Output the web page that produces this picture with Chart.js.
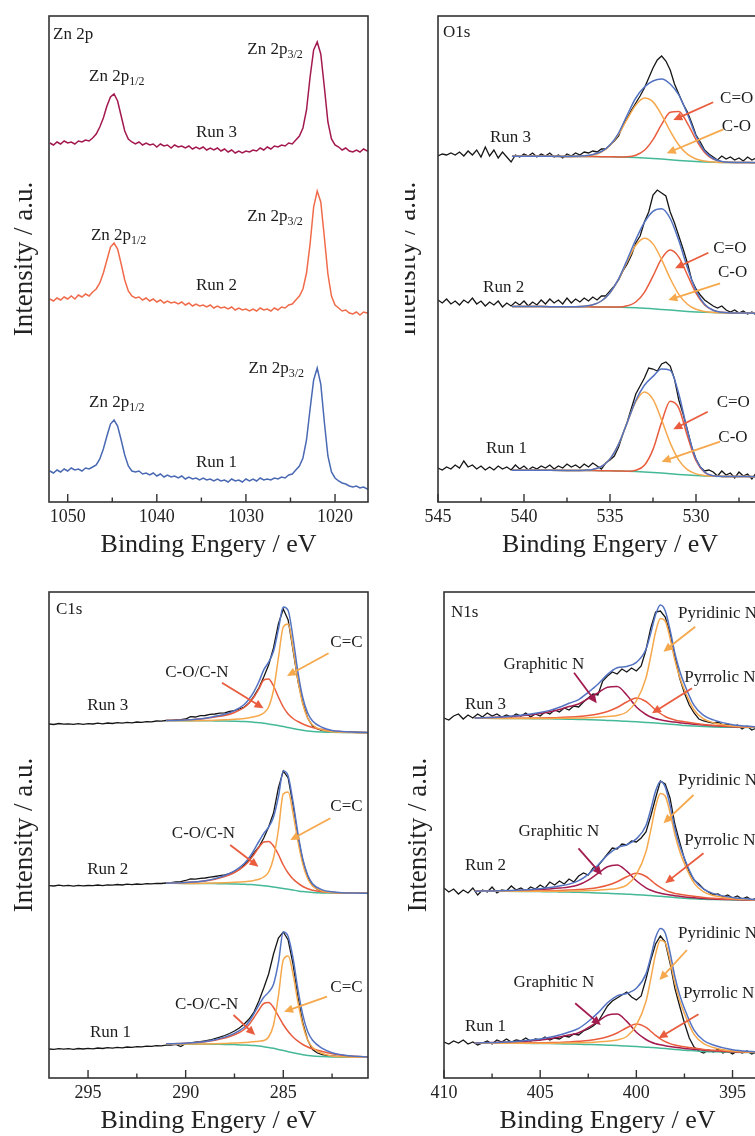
<!DOCTYPE html>
<html>
<head>
<meta charset="utf-8">
<script src="https://cdn.jsdelivr.net/npm/chart.js@4.4.1/dist/chart.umd.min.js"></script>
<style>
html, body { margin: 0; padding: 0; background: #fff; width: 755px; height: 1136px; overflow: hidden; }
.clip { position: absolute; overflow: hidden; }
canvas { position: absolute; }
</style>
</head>
<body>
<canvas id="zn" width="375" height="561" style="left:0px;top:0px"></canvas>
<div class="clip" style="left:405px;top:0px;width:350px;height:561px">
  <canvas id="o1s" width="410" height="561" style="left:-25px;top:0px"></canvas>
</div>
<canvas id="c1s" width="375" height="561" style="left:0px;top:576px"></canvas>
<canvas id="n1s" width="400" height="561" style="left:380px;top:576px"></canvas>
<script>
// ---------- Zn 2p ----------
const znX = [1052, 1051.6, 1051.2, 1050.8, 1050.4, 1050, 1049.6, 1049.2, 1048.8, 1048.4,
  1048, 1047.6, 1047.2, 1046.8, 1046.4, 1046, 1045.6, 1045.2, 1044.8, 1044.4,
  1044, 1043.6, 1043.2, 1042.8, 1042.4, 1042, 1041.6, 1041.2, 1040.8, 1040.4,
  1040, 1039.6, 1039.2, 1038.8, 1038.4, 1038, 1037.6, 1037.2, 1036.8, 1036.4,
  1036, 1035.6, 1035.2, 1034.8, 1034.4, 1034, 1033.6, 1033.2, 1032.8, 1032.4,
  1032, 1031.6, 1031.2, 1030.8, 1030.4, 1030, 1029.6, 1029.2, 1028.8, 1028.4,
  1028, 1027.6, 1027.2, 1026.8, 1026.4, 1026, 1025.6, 1025.2, 1024.8, 1024.4,
  1024, 1023.6, 1023.2, 1022.8, 1022.4, 1022, 1021.6, 1021.2, 1020.8, 1020.4,
  1020, 1019.6, 1019.2, 1018.8, 1018.4, 1018, 1017.6, 1017.2, 1016.8, 1016.4, 1016];
const znRun3 = [359, 357, 360, 358, 361, 359, 360, 358, 361, 360,
  362, 361, 364, 368, 375, 384, 396, 405, 408, 401,
  386, 371, 363, 360, 358, 360, 357, 359, 357, 358,
  355, 358, 356, 357, 354, 357, 355, 356, 354, 356,
  353, 355, 353, 355, 352, 354, 352, 354, 351, 353,
  350, 352, 349, 351, 349, 351, 350, 352, 351, 354,
  352, 355, 353, 356, 355, 357, 356, 359, 358, 362,
  366, 374, 392, 425, 452, 460, 448, 415, 380, 363,
  357, 355, 352, 354, 351, 350, 352, 350, 353, 351, 352];
const znRun2 = [203, 201, 204, 202, 205, 203, 206, 203, 207, 205,
  208, 206, 210, 213, 219, 229, 242, 255, 259, 253,
  238, 222, 211, 206, 204, 205, 202, 204, 201, 203,
  200, 202, 199, 201, 199, 200, 198, 200, 197, 199,
  196, 198, 196, 197, 195, 197, 194, 196, 194, 195,
  193, 195, 192, 194, 192, 193, 191, 193, 191, 194,
  192, 193, 191, 194, 192, 195, 194, 197, 198, 202,
  206, 213, 229, 258, 295, 311, 300, 265, 228, 206,
  197, 194, 191, 192, 189, 188, 190, 187, 190, 189, 190];
const znRun1 = [31, 29, 32, 30, 33, 31, 34, 32, 33, 31,
  34, 33, 35, 37, 43, 53, 66, 78, 82, 76,
  62, 47, 36, 31, 30, 31, 28, 29, 27, 29,
  26, 28, 25, 27, 25, 26, 24, 26, 23, 25,
  23, 24, 22, 24, 22, 23, 21, 23, 21, 22,
  20, 23, 21, 22, 20, 23, 21, 23, 21, 24,
  22, 23, 22, 24, 23, 25, 24, 27, 28, 32,
  36, 44, 62, 93, 122, 134, 118, 80, 46, 30,
  24, 21, 19, 18, 16, 15, 16, 14, 15, 13, 14];
const znTicks = [1050, 1040, 1030, 1020];
const znMinor = [1045, 1035, 1025];

// ---------- O 1s ----------
const o1sX = [545, 544.75, 544.5, 544.25, 544, 543.75, 543.5, 543.25, 543, 542.75,
  542.5, 542.25, 542, 541.75, 541.5, 541.25, 541, 540.75, 540.5, 540.25,
  540, 539.75, 539.5, 539.25, 539, 538.75, 538.5, 538.25, 538, 537.75,
  537.5, 537.25, 537, 536.75, 536.5, 536.25, 536, 535.75, 535.5, 535.25,
  535, 534.75, 534.5, 534.25, 534, 533.75, 533.5, 533.25, 533, 532.75,
  532.5, 532.25, 532, 531.75, 531.5, 531.25, 531, 530.75, 530.5, 530.25,
  530, 529.75, 529.5, 529.25, 529, 528.75, 528.5, 528.25, 528, 527.75,
  527.5, 527.25, 527, 526.75, 526.5, 526.25, 526, 525.75, 525.5, 525.25, 525];
const o1sRun3 = [346, 348, 347, 349, 347, 350, 346, 351, 347, 352,
  345, 355, 346, 352, 344, 350, 345, 340, 347, 345,
  348, 346, 349, 345, 348, 346, 349, 345, 347, 344,
  348, 346, 349, 347, 350, 349, 351, 350, 353, 353,
  357, 361, 366, 377, 384, 392, 399, 406, 414, 424,
  434, 442, 446, 441, 432, 418, 408, 398, 390, 379,
  367, 360, 352, 348, 345, 342, 346, 343, 345, 342,
  344, 341, 345, 342, 344, 341, 343, 340, 342, 340, 341];
const o1sRun2 = [202, 199, 203, 198, 201, 197, 202, 199, 204, 198,
  201, 196, 200, 197, 201, 195, 199, 196, 200, 197,
  201, 196, 200, 197, 202, 198, 203, 199, 202, 198,
  204, 199, 203, 200, 204, 201, 205, 202, 206, 206,
  211, 216, 222, 231, 238, 247, 259, 266, 280, 290,
  307, 312, 309, 306, 290, 279, 266, 253, 239, 222,
  213, 207, 202, 199, 196, 194, 196, 192, 190, 192,
  189, 191, 188, 190, 187, 190, 188, 189, 187, 189, 188];
const o1sRun1 = [34, 32, 35, 33, 37, 34, 41, 35, 37, 33,
  36, 32, 35, 32, 36, 33, 35, 32, 37, 33,
  36, 32, 35, 33, 36, 34, 37, 33, 36, 34,
  38, 35, 37, 34, 38, 35, 39, 36, 33, 39,
  42, 46, 55, 68, 80, 94, 108, 116, 124, 134,
  133, 131, 138, 140, 136, 123, 102, 88, 72, 55,
  43, 35, 31, 32, 30, 26, 31, 27, 29, 24,
  30, 26, 28, 23, 29, 26, 28, 24, 27, 25, 27];
const o1sFitX = [540.7, 539, 537.5, 537, 536.5, 536, 535.5, 535, 534.5, 534, 533.5, 533, 532.5,
  532, 531.5, 531, 530.5, 530, 529.5, 529, 528.5, 528, 527.5, 527, 526, 525];
const o1sBg3 = [345.8, 345.7, 345.6, 345.5, 345.5, 345.4, 345.3, 345.2, 345.0, 344.8, 344.5, 344.1, 343.6,
  343.0, 342.3, 341.6, 341.0, 340.5, 340.1, 339.8, 339.6, 339.5, 339.4, 339.4, 339.3, 339.3];
const o1sCO3 = [345.8, 345.7, 345.6, 345.6, 346.0, 347.0, 350.0, 356.5, 367.8, 382.8, 396.9, 403.9, 400.1,
  387.2, 370.9, 357.0, 347.8, 343.0, 340.9, 340.0, 339.6, 339.5, 339.4, 339.4, 339.3, 339.3];
const o1sCdO3 = [345.8, 345.7, 345.6, 345.5, 345.5, 345.4, 345.3, 345.2, 345.1, 345.3, 346.8, 351.7, 362.4,
  377.6, 389.8, 390.5, 378.7, 362.3, 349.5, 342.8, 340.3, 339.6, 339.4, 339.4, 339.3, 339.3];
const o1sEnv3 = [345.8, 345.7, 345.6, 345.7, 346.2, 347.5, 350.5, 357, 369, 387, 404, 415, 421,
  423, 418, 407, 388, 366, 351, 343.5, 340.5, 339.7, 339.5, 339.4, 339.3, 339.3];
const o1sBg2 = [195.5, 195.4, 195.3, 195.2, 195.2, 195.1, 195.0, 194.9, 194.7, 194.5, 194.2, 193.8, 193.3,
  192.6, 191.9, 191.2, 190.6, 190.1, 189.7, 189.4, 189.2, 189.0, 188.9, 188.9, 188.8, 188.8];
const o1sCO2 = [195.5, 195.4, 195.3, 195.3, 195.8, 197.2, 201.0, 209.2, 222.9, 240.6, 256.7, 263.8, 258.1,
  242.4, 223.5, 207.7, 197.8, 192.7, 190.5, 189.6, 189.2, 189.0, 188.9, 188.9, 188.8, 188.8];
const o1sCdO2 = [195.5, 195.4, 195.3, 195.2, 195.2, 195.1, 195.0, 195.0, 195.0, 196.2, 200.0, 209.7, 225.9,
  243.4, 251.9, 244.9, 227.0, 208.8, 197.0, 191.6, 189.7, 189.1, 188.9, 188.9, 188.8, 188.8];
const o1sEnv2 = [195.5, 195.4, 195.3, 195.3, 195.8, 197.2, 201.0, 209.3, 223.2, 242.3, 262.5, 279.7, 290.7,
  293.2, 283.5, 261.4, 234.2, 211.4, 197.8, 191.8, 189.7, 189.1, 188.9, 188.9, 188.8, 188.8];
const o1sBg1 = [31.8, 31.7, 31.6, 31.5, 31.5, 31.4, 31.3, 31.2, 31.0, 30.8, 30.5, 30.1, 29.6,
  29.0, 28.3, 27.6, 27.0, 26.5, 26.1, 25.8, 25.6, 25.5, 25.4, 25.4, 25.3, 25.3];
const o1sCO1 = [31.8, 31.7, 31.6, 31.5, 31.8, 32.6, 35.5, 43.1, 57.9, 79.3, 100.3, 110.1, 102.6,
  82.1, 59.1, 41.8, 32.3, 28.1, 26.5, 25.8, 25.6, 25.5, 25.4, 25.4, 25.3, 25.3];
const o1sCdO1 = [31.8, 31.7, 31.6, 31.5, 31.5, 31.4, 31.3, 31.2, 31.0, 30.8, 31.7, 36.7, 52.6,
  79.8, 100.8, 93.9, 66.0, 41.2, 29.6, 26.3, 25.6, 25.5, 25.4, 25.4, 25.3, 25.3];
const o1sEnv1 = [31.8, 31.7, 31.6, 31.5, 31.8, 32.6, 35.5, 43.1, 57.9, 79.3, 101.5, 116.7, 125.6,
  132.9, 131.6, 108.1, 71.3, 42.8, 30.0, 26.3, 25.6, 25.5, 25.4, 25.4, 25.3, 25.3];
const o1sTicks = [545, 540, 535, 530];
const o1sMinor = [542.5, 537.5, 532.5, 527.5];

// ---------- C 1s ----------
const c1sX = [297, 296.75, 296.5, 296.25, 296, 295.75, 295.5, 295.25, 295, 294.75,
  294.5, 294.25, 294, 293.75, 293.5, 293.25, 293, 292.75, 292.5, 292.25,
  292, 291.75, 291.5, 291.25, 291, 290.75, 290.5, 290.25, 290, 289.75,
  289.5, 289.25, 289, 288.75, 288.5, 288.25, 288, 287.75, 287.5, 287.25,
  287, 286.75, 286.5, 286.25, 286, 285.75, 285.5, 285.25, 285, 284.75,
  284.5, 284.25, 284, 283.75, 283.5, 283.25, 283, 282.75, 282.5, 282.25,
  282, 281.75, 281.5, 281.25, 281, 280.75];
const c1sRun3 = [354, 353.5, 354.5, 353.8, 354.2, 353.6, 354.4, 353.7, 354.3, 354.0,
  354.8, 354.2, 355.0, 354.5, 355.3, 354.8, 355.6, 355.2, 356.0, 355.6,
  356.4, 356.2, 357.0, 356.8, 357.5, 357.6, 358.2, 358.3, 359.0, 361.3,
  361.0, 362.4, 362.5, 363.6, 364.0, 364.8, 365.2, 366.5, 367.3, 369.0,
  371, 375, 382, 390, 401, 413, 430, 454, 469, 458,
  428, 397, 375, 360, 352, 349, 347.5, 347.0, 346.5, 346.4,
  346.2, 346.0, 345.9, 345.8, 345.7, 345.7];
const c1sRun2 = [192.3, 192.0, 192.8, 192.2, 192.6, 191.9, 192.7, 192.1, 192.5, 192.3,
  193.0, 192.4, 193.2, 192.8, 193.5, 193.0, 193.8, 193.4, 194.0, 193.6,
  194.3, 194.1, 194.6, 194.5, 195.0, 195.4, 196.0, 196.3, 197.5, 199.2,
  198.8, 199.6, 200.0, 200.8, 201.5, 202.3, 203.2, 204.4, 205.8, 208.5,
  213, 218, 225, 231, 240, 251, 265, 290, 307, 300,
  273, 241, 217, 201, 192.5, 188.5, 186.8, 186.0, 185.6, 185.3,
  185.1, 185.0, 184.9, 184.8, 184.8, 184.7];
const c1sRun1 = [29.0, 28.6, 29.4, 28.8, 29.3, 28.7, 29.5, 29.0, 29.6, 29.2,
  30.0, 29.5, 30.3, 29.9, 30.6, 30.2, 31.0, 30.7, 31.4, 31.1,
  31.8, 31.6, 32.3, 32.2, 32.8, 33.0, 33.6, 31.5, 34.5, 35.2,
  35.8, 36.3, 37.2, 38.0, 39.5, 40.8, 42.5, 44.5, 47.0, 50.0,
  54, 59, 66, 77, 90, 104, 124, 140, 146, 138,
  114, 81, 55, 38, 28.5, 25.0, 23.5, 22.6, 22.0, 21.7,
  21.5, 21.4, 21.3, 21.3, 21.2, 21.2];
const c1sFitX = [291, 290, 289, 288.5, 288, 287.5, 287, 286.75, 286.5, 286.25, 286, 285.75, 285.5,
  285.25, 285, 284.75, 284.5, 284.25, 284, 283.75, 283.5, 283, 282.5, 282, 281.5, 280.6];
const c1sBg3 = [357.4, 357.3, 357.2, 357.1, 357.0, 356.8, 356.5, 356.2, 355.8, 355.3, 354.8, 354.1, 353.3,
  352.4, 351.5, 350.5, 349.5, 348.5, 347.7, 347.0, 346.5, 346.0, 345.7, 345.5, 345.4, 345.3];
const c1sCO3 = [357.5, 358.0, 359.5, 361, 362.5, 365.5, 370.5, 375, 381, 389, 398, 399, 392,
  381, 371, 364, 359.5, 356.5, 354, 352, 350.5, 348.5, 347, 346.3, 345.8, 345.4];
const c1sCC3 = [357.4, 357.3, 357.5, 357.8, 358.2, 358.7, 359.5, 360.2, 361.2, 362.5, 365, 371, 388,
  420, 451, 454, 430, 398, 374, 360, 353, 348, 346.3, 345.7, 345.5, 345.3];
const c1sEnv3 = [357.5, 358.0, 359.8, 361.7, 363.7, 367.4, 373.5, 379.0, 386.4, 396.2, 408.2, 415.9, 426.7,
  448.6, 471.0, 467.5, 440.0, 406.0, 380.3, 365.0, 357.0, 350.5, 347.6, 346.5, 345.9, 345.4];
const c1sBg2 = [194.7, 194.6, 194.5, 194.4, 194.3, 194.1, 193.8, 193.5, 193.2, 192.8, 192.3, 191.7, 191.0,
  190.3, 189.5, 188.7, 187.9, 187.1, 186.4, 185.9, 185.5, 185.1, 184.9, 184.8, 184.7, 184.7];
const c1sCO2 = [194.8, 195.5, 197.0, 198.8, 201.5, 205.5, 212, 217, 223.5, 230.5, 236, 236.5, 232,
  223.5, 213, 205, 199, 194.8, 191.5, 189.3, 187.8, 186.2, 185.5, 185.1, 184.9, 184.7];
const c1sCC2 = [194.7, 194.6, 194.8, 195.0, 195.3, 195.7, 196.3, 196.8, 197.6, 198.8, 201, 206, 220,
  248, 284, 286, 265, 237, 214, 199.5, 192, 187, 185.6, 185.0, 184.8, 184.7];
const c1sEnv2 = [194.8, 195.5, 197.3, 199.4, 202.5, 207.1, 214.5, 220.3, 227.9, 236.5, 244.7, 250.8, 261.0,
  281.2, 307.0, 302.0, 276.1, 244.7, 219.1, 202.9, 194.3, 188.1, 186.2, 185.3, 185.0, 184.7];
const c1sBg1 = [34.0, 33.9, 33.8, 33.7, 33.6, 33.4, 33.1, 32.8, 32.4, 31.9, 31.3, 30.6, 29.7,
  28.6, 27.4, 26.3, 25.2, 24.2, 23.3, 22.6, 22.0, 21.4, 21.0, 20.8, 20.7, 20.7];
const c1sCO1 = [34.2, 34.8, 36.3, 37.8, 40.0, 43.2, 48.5, 53.5, 60.5, 68, 74.5, 75.5, 70.5,
  62, 53.5, 46.5, 41, 36.8, 33.5, 31, 29.2, 26.5, 24.3, 22.8, 21.9, 21.0];
const c1sCC1 = [34.0, 33.9, 34.0, 34.2, 34.5, 34.9, 35.4, 35.8, 36.3, 36.8, 37.5, 41, 53,
  82, 118, 122, 104, 76, 53, 38, 30.5, 24.5, 22, 21.2, 20.8, 20.7];
const c1sEnv1 = [34.2, 34.8, 36.5, 38.3, 40.9, 44.7, 50.8, 56.5, 64.4, 72.9, 80.7, 85.9, 93.8,
  115.4, 146.0, 141.5, 119.8, 88.6, 63.2, 46.4, 37.7, 29.6, 25.3, 23.2, 22.0, 21.0];
const c1sTicks = [295, 290, 285];
const c1sMinor = [292.5, 287.5, 282.5];

// ---------- N 1s ----------
const n1sX = [410, 409.75, 409.5, 409.25, 409, 408.75, 408.5, 408.25, 408, 407.75,
  407.5, 407.25, 407, 406.75, 406.5, 406.25, 406, 405.75, 405.5, 405.25,
  405, 404.75, 404.5, 404.25, 404, 403.75, 403.5, 403.25, 403, 402.75,
  402.5, 402.25, 402, 401.75, 401.5, 401.25, 401, 400.75, 400.5, 400.25,
  400, 399.75, 399.5, 399.25, 399, 398.75, 398.5, 398.25, 398, 397.75,
  397.5, 397.25, 397, 396.75, 396.5, 396.25, 396, 395.75, 395.5, 395.25,
  395, 394.75, 394.5, 394.25, 394, 393.75];
const n1sRun3 = [360, 358, 362, 364, 359, 363, 360, 364, 361, 365,
  362, 364, 361, 363, 361, 364, 362, 365, 361, 364,
  362, 366, 364, 368, 366, 370, 368, 372, 371, 376,
  380, 384, 383, 397, 402, 406, 404, 409, 406, 410,
  407, 412, 428, 450, 466, 467, 461, 445, 422, 400,
  385, 373, 365, 359, 357, 356, 355, 356, 353, 354,
  351, 353, 349, 352, 348, 350];
const n1sRun2 = [190, 186, 189, 184, 188, 185, 190, 183, 188, 186,
  191, 185, 188, 187, 192, 188, 190, 187, 191, 189,
  193, 190, 196, 193, 197, 194, 199, 196, 202, 205,
  203, 210, 212, 218, 224, 230, 229, 234, 233, 237,
  236, 240, 246, 262, 280, 297, 294, 280, 254, 236,
  219, 206, 198, 194, 189, 186, 183, 184, 181, 183,
  180, 182, 179, 181, 178, 180];
const n1sRun1 = [36, 34, 37, 35, 38, 34, 36, 33, 35, 37,
  34, 38, 36, 39, 36, 38, 37, 40, 37, 39,
  38, 41, 38, 40, 39, 42, 41, 44, 43, 47,
  49, 52, 56, 64, 72, 77, 80, 83, 86, 81,
  78, 82, 99, 118, 134, 142, 136, 115, 90, 72,
  55, 40, 31, 27, 25, 28, 26, 29, 25, 27,
  24, 27, 25, 27, 24, 26];
const n1sFitX = [408.4, 407, 406, 405, 404.5, 404, 403.5, 403, 402.5, 402, 401.5, 401, 400.5, 400, 399.5,
  399.25, 399, 398.75, 398.5, 398.25, 398, 397.75, 397.5, 397, 396.5, 396, 395, 394, 393];
const n1sBg3 = [359.7, 359.6, 359.5, 359.3, 359.2, 359.0, 358.8, 358.6, 358.3, 358.0, 357.6, 357.2, 356.7, 356.2, 355.6,
  355.3, 355.0, 354.6, 354.2, 353.8, 353.4, 353.0, 352.6, 352.0, 351.5, 351.1, 350.7, 350.5, 350.4];
const n1sGr3 = [359.9, 361.0, 362.3, 364.5, 366.2, 368.5, 371.5, 374, 379.5, 385, 390.8, 391.5, 383, 371, 363.5,
  361, 359.3, 358.2, 357.2, 356.5, 355.9, 355.3, 354.8, 353.8, 353, 352.3, 351.3, 350.8, 350.5];
const n1sPr3 = [359.7, 359.7, 359.8, 360.0, 360.2, 360.5, 361.0, 361.6, 362.5, 364, 366.5, 370.5, 376, 380, 376.5,
  372.5, 368, 364.5, 361.5, 359.5, 358, 357, 356.2, 354.8, 353.6, 352.7, 351.4, 350.8, 350.5];
const n1sPy3 = [359.7, 359.6, 359.6, 359.6, 359.6, 359.7, 359.8, 360.0, 360.3, 360.8, 361.5, 362.6, 366, 377, 400,
  422, 446, 459.5, 457, 440, 418, 401, 388, 368, 359, 355.3, 352, 350.9, 350.5];
const n1sEnv3 = [359.9, 361.1, 362.7, 365.5, 367.6, 370.7, 374.7, 378.4, 385.7, 393.8, 403.6, 410.2, 411.6, 415.6, 428.8,
  444.9, 463.3, 473.0, 467.3, 448.4, 425.1, 407.3, 393.8, 372.6, 362.6, 358.1, 353.3, 351.5, 350.7];
const n1sBg2 = [186.8, 186.7, 186.6, 186.4, 186.3, 186.1, 185.9, 185.7, 185.4, 185.1, 184.7, 184.3, 183.8, 183.3, 182.7,
  182.4, 182.1, 181.7, 181.3, 180.9, 180.5, 180.1, 179.7, 179.2, 178.7, 178.4, 178.1, 177.9, 177.8];
const n1sGr2 = [186.8, 187.1, 187.6, 188.4, 189.1, 189.9, 190.9, 193.2, 197.9, 204.6, 211.2, 212.9, 206.8, 197.3, 190.2,
  187.7, 186.0, 184.8, 183.8, 183.0, 182.3, 181.7, 181.1, 180.3, 179.6, 179.1, 178.5, 178.1, 177.9];
const n1sPr2 = [186.8, 186.8, 186.9, 187.0, 187.2, 187.5, 187.9, 188.4, 189.2, 190.5, 192.7, 196.3, 201.2, 204.7, 201.5,
  197.9, 193.8, 190.6, 187.9, 186.0, 184.6, 183.7, 182.9, 181.7, 180.6, 179.8, 178.7, 178.2, 177.9];
const n1sPy2 = [186.8, 186.7, 186.7, 186.7, 186.7, 186.8, 186.9, 187.1, 187.4, 187.8, 188.5, 189.6, 192.9, 203.7, 226.2,
  247.8, 271.3, 284.5, 282.0, 265.4, 243.8, 227.1, 214.4, 194.9, 186.1, 182.5, 179.4, 178.3, 177.9];
const n1sEnv2 = [186.8, 187.2, 188.0, 189.3, 190.4, 192.0, 193.9, 197.3, 203.7, 212.7, 223.0, 230.2, 233.3, 239.1, 252.5,
  268.6, 286.9, 296.5, 291.1, 272.8, 249.7, 232.6, 219.6, 198.5, 188.9, 184.6, 180.4, 178.8, 178.1];
const n1sBg1 = [34.9, 34.8, 34.7, 34.5, 34.4, 34.2, 34.0, 33.8, 33.5, 33.2, 32.8, 32.4, 31.9, 31.4, 30.8,
  30.5, 30.2, 29.8, 29.4, 29.0, 28.6, 28.2, 27.8, 27.2, 26.6, 26.2, 25.7, 25.5, 25.4];
const n1sGr1 = [35.0, 35.7, 36.6, 38.1, 39.3, 40.9, 42.9, 45.3, 50.4, 56.5, 62.7, 63.9, 56.6, 45.8, 38.5,
  36.0, 34.3, 33.2, 32.2, 31.4, 30.8, 30.2, 29.6, 28.7, 27.8, 27.2, 26.2, 25.8, 25.5];
const n1sPr1 = [34.9, 34.9, 35.0, 35.2, 35.4, 35.6, 36.1, 36.7, 37.5, 38.9, 41.3, 45.0, 50.2, 54.0, 50.7,
  46.8, 42.6, 39.2, 36.3, 34.4, 33.0, 32.0, 31.2, 29.9, 28.6, 27.7, 26.4, 25.8, 25.5];
const n1sPy1 = [34.9, 34.8, 34.8, 34.8, 34.8, 34.9, 35.0, 35.2, 35.6, 36.1, 36.8, 38.0, 41.5, 52.8, 76.5,
  99.2, 123.9, 137.8, 135.3, 117.8, 95.1, 77.6, 64.3, 43.7, 34.3, 30.5, 27.0, 25.9, 25.5];
const n1sEnv1 = [35.0, 35.8, 37.0, 39.1, 40.7, 43.0, 46.0, 49.6, 56.5, 65.1, 75.2, 82.1, 84.5, 89.8, 104.1,
  121.0, 140.4, 149.6, 145.0, 125.6, 101.7, 83.4, 69.5, 47.9, 37.5, 33.0, 28.2, 26.5, 25.7];
const n1sTicks = [410, 405, 400, 395];
const n1sMinor = [407.5, 402.5, 397.5];

// ---------- styles ----------
Chart.defaults.font.family = "'Liberation Serif', 'Times New Roman', serif";
Chart.defaults.color = '#222';

const BLACK = '#161616', ENV = '#5373c2', ORANGE = '#f6a84c', RED = '#e95c3d',
  CRIMSON = '#a31c50', GREEN = '#45b997';
const ZN3 = '#a3194f', ZN2 = '#f06b4a', ZN1 = '#4a69b3';
const SERIF = '"Liberation Serif", "Times New Roman", serif';

function pts(xs, ys) {
  return xs.map((x, i) => ({ x: x, y: ys[i] }));
}

// order: smaller = drawn on top
function line(xs, ys, color, width, smooth, order) {
  return {
    data: pts(xs, ys), borderColor: color, borderWidth: width, pointRadius: 0,
    tension: 0, cubicInterpolationMode: smooth ? 'monotone' : 'default',
    fill: false, order: order
  };
}

function arrow(ctx, x1, y1, x2, y2, color) {
  const a = Math.atan2(y2 - y1, x2 - x1);
  const L = 9, W = 4.2;
  ctx.strokeStyle = color; ctx.fillStyle = color; ctx.lineWidth = 1.8;
  ctx.beginPath();
  ctx.moveTo(x1, y1);
  ctx.lineTo(x2 - L * 0.8 * Math.cos(a), y2 - L * 0.8 * Math.sin(a));
  ctx.stroke();
  ctx.beginPath();
  ctx.moveTo(x2, y2);
  ctx.lineTo(x2 - L * Math.cos(a) + W * Math.sin(a), y2 - L * Math.sin(a) - W * Math.cos(a));
  ctx.lineTo(x2 - L * Math.cos(a) - W * Math.sin(a), y2 - L * Math.sin(a) + W * Math.cos(a));
  ctx.closePath();
  ctx.fill();
}

// frame, inward ticks, panel label, annotations
function decor(p) {
  return {
    id: 'decor',
    afterDraw(chart) {
      const { ctx, chartArea: a } = chart;
      const x = chart.scales.x, y = chart.scales.y;
      ctx.save();
      p.arrows.forEach(r => arrow(ctx, x.getPixelForValue(r[0]), y.getPixelForValue(r[1]),
        x.getPixelForValue(r[2]), y.getPixelForValue(r[3]), r[4]));
      ctx.fillStyle = '#1c1c1c';
      ctx.textBaseline = 'alphabetic';
      ctx.textAlign = 'left';
      ctx.font = '17px ' + SERIF;
      ctx.fillText(p.label, a.left + p.labelPos[0], a.top + p.labelPos[1]);
      p.texts.forEach(t => {
        const px = x.getPixelForValue(t[1]), py = y.getPixelForValue(t[2]);
        ctx.font = '17px ' + SERIF;
        ctx.fillText(t[0], px, py);
        if (t[3]) {
          const w = ctx.measureText(t[0]).width;
          ctx.font = '12px ' + SERIF;
          ctx.fillText(t[3], px + w, py + 4);
        }
      });
      ctx.strokeStyle = '#333';
      ctx.lineWidth = 1.6;
      ctx.strokeRect(a.left, a.top, a.right - a.left, a.bottom - a.top);
      ctx.lineWidth = 1.4;
      ctx.beginPath();
      p.ticks.forEach(v => { const px = x.getPixelForValue(v); ctx.moveTo(px, a.bottom); ctx.lineTo(px, a.bottom - 8); });
      p.minor.forEach(v => { const px = x.getPixelForValue(v); ctx.moveTo(px, a.bottom); ctx.lineTo(px, a.bottom - 4.5); });
      ctx.stroke();
      ctx.restore();
    }
  };
}

function makeChart(id, p) {
  return new Chart(document.getElementById(id), {
    type: 'line',
    data: { datasets: p.datasets },
    options: {
      responsive: false, animation: false, devicePixelRatio: 1, events: [],
      layout: { padding: { left: 0, top: 16, right: p.padRight, bottom: 0 } },
      plugins: { legend: { display: false }, tooltip: { enabled: false } },
      scales: {
        x: {
          type: 'linear', reverse: true, min: p.min, max: p.max,
          grid: { display: false, drawTicks: false }, border: { display: false },
          afterBuildTicks: s => { s.ticks = p.ticks.map(v => ({ value: v })); },
          afterFit: s => { s.height = 59; },
          ticks: { font: { size: 18 }, color: '#222', padding: 4, maxRotation: 0, autoSkip: false,
            callback: v => String(v) },
          title: { display: true, text: 'Binding Engery / eV', font: { size: 26 }, color: '#222',
            padding: { top: 0, bottom: 0.5 } }
        },
        y: {
          type: 'linear', min: 0, max: 486,
          grid: { display: false, drawTicks: false }, border: { display: false },
          ticks: { display: false },
          afterFit: s => { s.width = p.yWidth; },
          title: { display: true, text: 'Intensity / a.u.', font: { size: 27 }, color: '#222',
            padding: { top: p.yPad, bottom: 0 } }
        }
      }
    },
    plugins: [decor(p)]
  });
}

// ---------- panels ----------
makeChart('zn', {
  min: 1016.3, max: 1052.1, padRight: 7, yWidth: 49, yPad: 8.6,
  ticks: znTicks, minor: znMinor, label: 'Zn 2p', labelPos: [4, 23],
  datasets: [
    line(znX, znRun3, ZN3, 1.5, false, 0),
    line(znX, znRun2, ZN2, 1.5, false, 0),
    line(znX, znRun1, ZN1, 1.5, false, 0)
  ],
  texts: [
    ['Zn 2p', 1047.6, 421, '1/2'], ['Zn 2p', 1029.85, 448, '3/2'], ['Run 3', 1035.6, 365],
    ['Zn 2p', 1047.4, 262, '1/2'], ['Zn 2p', 1029.85, 281, '3/2'], ['Run 2', 1035.6, 212],
    ['Zn 2p', 1047.6, 95, '1/2'], ['Zn 2p', 1029.7, 129, '3/2'], ['Run 1', 1035.6, 35]
  ],
  arrows: []
});

makeChart('o1s', {
  min: 525, max: 545, padRight: 8, yWidth: 58, yPad: 11.3,
  ticks: o1sTicks, minor: o1sMinor, label: 'O1s', labelPos: [5, 21],
  datasets: [
    line(o1sFitX, o1sEnv3, ENV, 1.5, true, 0), line(o1sFitX, o1sCO3, ORANGE, 1.5, true, 1),
    line(o1sFitX, o1sCdO3, RED, 1.5, true, 1), line(o1sFitX, o1sBg3, GREEN, 1.5, true, 2),
    line(o1sFitX, o1sEnv2, ENV, 1.5, true, 0), line(o1sFitX, o1sCO2, ORANGE, 1.5, true, 1),
    line(o1sFitX, o1sCdO2, RED, 1.5, true, 1), line(o1sFitX, o1sBg2, GREEN, 1.5, true, 2),
    line(o1sFitX, o1sEnv1, ENV, 1.5, true, 0), line(o1sFitX, o1sCO1, ORANGE, 1.5, true, 1),
    line(o1sFitX, o1sCdO1, RED, 1.5, true, 1), line(o1sFitX, o1sBg1, GREEN, 1.5, true, 2),
    line(o1sX, o1sRun3, BLACK, 1.3, false, 3),
    line(o1sX, o1sRun2, BLACK, 1.3, false, 3),
    line(o1sX, o1sRun1, BLACK, 1.3, false, 3)
  ],
  texts: [
    ['Run 3', 541.98, 360.3], ['C=O', 528.6, 398.7], ['C-O', 528.5, 371],
    ['Run 2', 542.38, 209.7], ['C=O', 529.0, 248.7], ['C-O', 528.72, 225.3],
    ['Run 1', 542.21, 48.7], ['C=O', 528.8, 94.7], ['C-O', 528.7, 60.3]
  ],
  arrows: [
    [529.0, 399.7, 531.32, 382, RED], [528.41, 372.7, 531.7, 348.7, ORANGE],
    [529.28, 249.3, 531.22, 233.7, RED], [528.6, 218.7, 531.61, 202, ORANGE],
    [529.32, 90.3, 531.32, 72.7, RED], [528.6, 60.3, 532.0, 40.3, ORANGE]
  ]
});

makeChart('c1s', {
  min: 280.66, max: 297, padRight: 7, yWidth: 49, yPad: 8.6,
  ticks: c1sTicks, minor: c1sMinor, label: 'C1s', labelPos: [7, 22],
  datasets: [
    line(c1sFitX, c1sEnv3, ENV, 1.5, true, 0), line(c1sFitX, c1sCC3, ORANGE, 1.5, true, 1),
    line(c1sFitX, c1sCO3, RED, 1.5, true, 1), line(c1sFitX, c1sBg3, GREEN, 1.5, true, 2),
    line(c1sFitX, c1sEnv2, ENV, 1.5, true, 0), line(c1sFitX, c1sCC2, ORANGE, 1.5, true, 1),
    line(c1sFitX, c1sCO2, RED, 1.5, true, 1), line(c1sFitX, c1sBg2, GREEN, 1.5, true, 2),
    line(c1sFitX, c1sEnv1, ENV, 1.5, true, 0), line(c1sFitX, c1sCC1, ORANGE, 1.5, true, 1),
    line(c1sFitX, c1sCO1, RED, 1.5, true, 1), line(c1sFitX, c1sBg1, GREEN, 1.5, true, 2),
    line(c1sX, c1sRun3, BLACK, 1.3, false, 3),
    line(c1sX, c1sRun2, BLACK, 1.3, false, 3),
    line(c1sX, c1sRun1, BLACK, 1.3, false, 3)
  ],
  texts: [
    ['Run 3', 295.04, 368], ['C=C', 282.59, 430.7], ['C-O/C-N', 291.05, 400.7],
    ['Run 2', 295.04, 204], ['C=C', 282.59, 267.3], ['C-O/C-N', 290.71, 239.7],
    ['Run 1', 294.9, 41.3], ['C=C', 282.59, 86.3], ['C-O/C-N', 290.54, 68.7]
  ],
  arrows: [
    [282.68, 424.7, 284.81, 402, ORANGE], [288.14, 395.3, 286.01, 369.7, RED],
    [282.59, 259.7, 284.64, 238, ORANGE], [287.72, 233, 286.27, 211.3, RED],
    [282.76, 81.3, 284.96, 66.3, ORANGE], [287.55, 63, 286.44, 43, RED]
  ]
});

makeChart('n1s', {
  min: 393, max: 410, padRight: 9, yWidth: 64, yPad: 22.6,
  ticks: n1sTicks, minor: n1sMinor, label: 'N1s', labelPos: [7, 25],
  datasets: [
    line(n1sFitX, n1sEnv3, ENV, 1.5, true, 0), line(n1sFitX, n1sPy3, ORANGE, 1.5, true, 1),
    line(n1sFitX, n1sPr3, RED, 1.5, true, 1), line(n1sFitX, n1sGr3, CRIMSON, 1.5, true, 1),
    line(n1sFitX, n1sBg3, GREEN, 1.5, true, 2),
    line(n1sFitX, n1sEnv2, ENV, 1.5, true, 0), line(n1sFitX, n1sPy2, ORANGE, 1.5, true, 1),
    line(n1sFitX, n1sPr2, RED, 1.5, true, 1), line(n1sFitX, n1sGr2, CRIMSON, 1.5, true, 1),
    line(n1sFitX, n1sBg2, GREEN, 1.5, true, 2),
    line(n1sFitX, n1sEnv1, ENV, 1.5, true, 0), line(n1sFitX, n1sPy1, ORANGE, 1.5, true, 1),
    line(n1sFitX, n1sPr1, RED, 1.5, true, 1), line(n1sFitX, n1sGr1, CRIMSON, 1.5, true, 1),
    line(n1sFitX, n1sBg1, GREEN, 1.5, true, 2),
    line(n1sX, n1sRun3, BLACK, 1.3, false, 3),
    line(n1sX, n1sRun2, BLACK, 1.3, false, 3),
    line(n1sX, n1sRun1, BLACK, 1.3, false, 3)
  ],
  texts: [
    ['Run 3', 408.91, 368.7], ['Pyridinic N', 397.83, 459.7], ['Graphitic N', 406.91, 409], ['Pyrrolic N', 397.51, 396.3],
    ['Run 2', 408.91, 208], ['Pyridinic N', 397.83, 293], ['Graphitic N', 406.13, 242.3], ['Pyrrolic N', 397.51, 233],
    ['Run 1', 408.91, 47.3], ['Pyridinic N', 397.83, 139.7], ['Graphitic N', 406.39, 91.3], ['Pyrrolic N', 397.58, 79.7]
  ],
  arrows: [
    [396.94, 451.3, 398.59, 426.3, ORANGE], [403.24, 405.3, 402.06, 374.7, CRIMSON], [397.11, 389.7, 399.19, 364.7, RED],
    [397.03, 283, 398.59, 254.7, ORANGE], [403.01, 229.7, 401.79, 203, CRIMSON], [396.51, 224.7, 398.5, 194.7, RED],
    [397.37, 128, 398.8, 98, ORANGE], [403.18, 74.7, 401.85, 53, CRIMSON], [396.77, 63.7, 398.85, 39.7, RED]
  ]
});
</script>
</body>
</html>
